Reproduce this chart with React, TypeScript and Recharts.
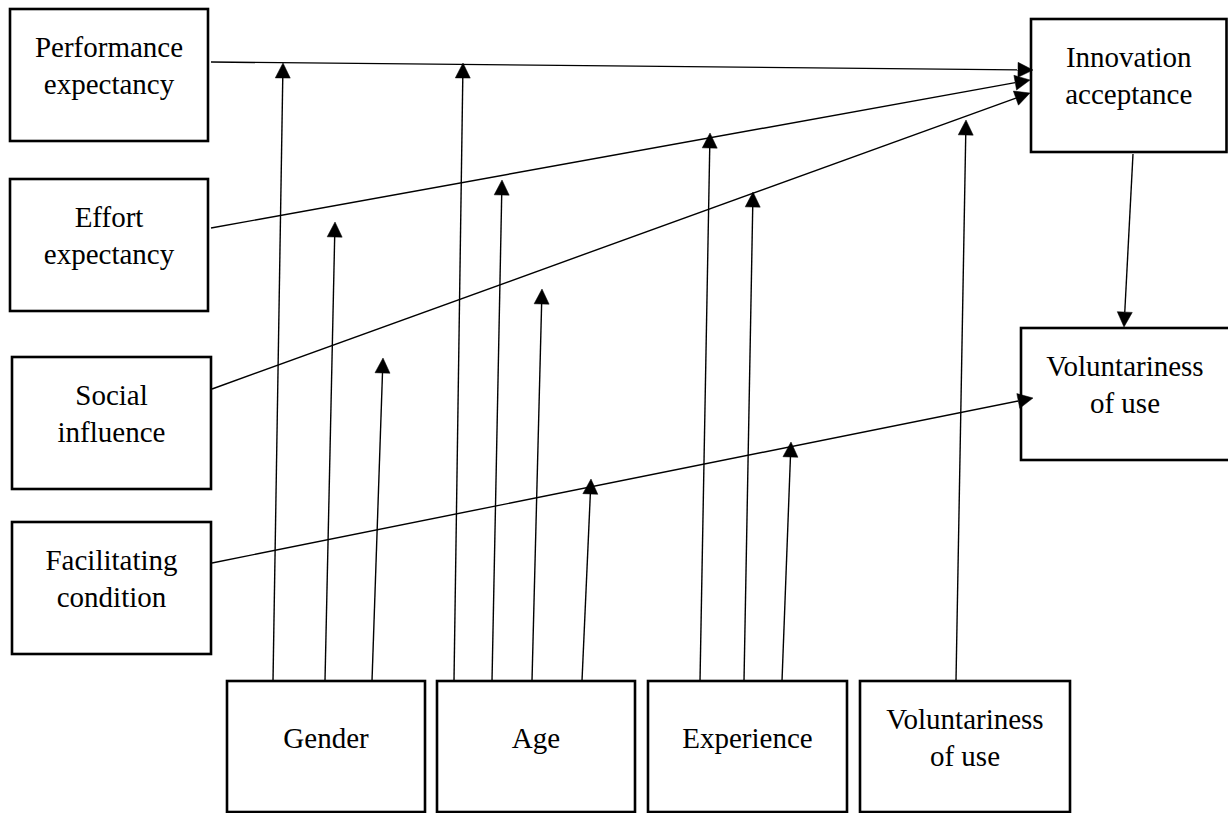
import React from 'react';
import { ComposedChart, XAxis, YAxis, ReferenceArea, ReferenceLine } from 'recharts';

// Diagram space (units on both axes)
const X_DOMAIN: [number, number] = [0, 1228];
const Y_DOMAIN: [number, number] = [0, 813];

// Construct boxes (left column)
const constructBoxes = [
  { lines: ['Performance', 'expectancy'], x1: 10, x2: 208, y1: 9, y2: 141 },
  { lines: ['Effort', 'expectancy'], x1: 10, x2: 208, y1: 179, y2: 311 },
  { lines: ['Social', 'influence'], x1: 12, x2: 211, y1: 357, y2: 489 },
  { lines: ['Facilitating', 'condition'], x1: 12, x2: 211, y1: 522, y2: 654 },
];

// Outcome boxes (right column)
const outcomeBoxes = [
  { lines: ['Innovation', 'acceptance'], x1: 1031, x2: 1226.5, y1: 19, y2: 152 },
  { lines: ['Voluntariness', 'of use'], x1: 1021, x2: 1234, y1: 328, y2: 460 },
];

// Moderator boxes (bottom row)
const moderatorBoxes = [
  { lines: ['Gender'], x1: 227, x2: 425, y1: 681, y2: 812 },
  { lines: ['Age'], x1: 437, x2: 635, y1: 681, y2: 812 },
  { lines: ['Experience'], x1: 648, x2: 847, y1: 681, y2: 812 },
  { lines: ['Voluntariness', 'of use'], x1: 860, x2: 1070, y1: 681, y2: 812 },
];

// Construct -> outcome paths: [fromX, fromY, toX, toY]
const constructPaths = [
  [211, 62, 1033, 70],
  [211, 228, 1030, 80],
  [212, 389, 1030, 93],
  [212, 563, 1033, 398],
  [1133, 154, 1124, 327],
];

// Moderator paths
const genderPaths = [
  [273, 681, 283, 63],
  [325, 681, 335, 222],
  [372, 681, 383, 358],
];
const agePaths = [
  [454, 681, 463, 63],
  [492, 681, 502, 180],
  [532, 681, 542, 289],
  [582, 681, 591, 479],
];
const experiencePaths = [
  [700, 681, 710, 133],
  [744, 681, 753, 192],
  [782, 681, 791, 442],
];
const voluntarinessPaths = [[956, 681, 966, 120]];

const FONT = '"Liberation Serif", "Times New Roman", Times, serif';

const BoxShape = (props: any) => {
  const { x, y, width, height, lines } = props;
  const n = lines.length;
  const lineH = 37;
  const firstCenter = y + 38 + (2 - n) * 18.5;
  const boxW = Math.min(width, 1226.5 - x > 0 && x > 1000 && width > 200 ? width : width);
  const cx = x + (x > 1000 && width > 200 ? (1228 - x + 1) / 2 + 0 : boxW / 2);
  return (
    <g>
      <rect x={x} y={y} width={width} height={height} fill="#fff" stroke="#000" strokeWidth={2.6} />
      {lines.map((t: string, i: number) => (
        <text
          key={i}
          x={cx}
          y={firstCenter + i * lineH + 10}
          textAnchor="middle"
          fontFamily={FONT}
          fontSize={29}
          fill="#000"
        >
          {t}
        </text>
      ))}
    </g>
  );
};

const ArrowShape = (props: any) => {
  const { x1, y1, x2, y2 } = props;
  const dx = x2 - x1;
  const dy = y2 - y1;
  const len = Math.hypot(dx, dy) || 1;
  const ux = dx / len;
  const uy = dy / len;
  const hl = 15;
  const hw = 7.5;
  const bx = x2 - ux * hl;
  const by = y2 - uy * hl;
  const px = -uy;
  const py = ux;
  const pts = `${x2},${y2} ${bx + px * hw},${by + py * hw} ${bx - px * hw},${by - py * hw}`;
  return (
    <g>
      <line x1={x1} y1={y1} x2={bx} y2={by} stroke="#000" strokeWidth={1.4} />
      <polygon points={pts} fill="#000" stroke="#000" strokeWidth={0.5} />
    </g>
  );
};

const allBoxes = [...constructBoxes, ...outcomeBoxes, ...moderatorBoxes];
const allPaths = [...constructPaths, ...genderPaths, ...agePaths, ...experiencePaths, ...voluntarinessPaths];

export default function App() {
  return (
    <div style={{ position: 'absolute', left: 0, top: 0, width: 1228, height: 813, background: '#fff', overflow: 'hidden' }}>
      <ComposedChart width={1228} height={813} margin={{ top: 0, right: 0, bottom: 0, left: 0 }}>
        <XAxis type="number" dataKey="x" domain={X_DOMAIN} hide allowDataOverflow />
        <YAxis type="number" dataKey="y" domain={Y_DOMAIN} reversed hide allowDataOverflow />
        {allBoxes.map((b, i) => (
          <ReferenceArea
            key={'b' + i}
            x1={b.x1}
            x2={b.x2}
            y1={b.y1}
            y2={b.y2}
            ifOverflow="visible"
            shape={(p: any) => <BoxShape {...p} lines={b.lines} />}
          />
        ))}
        {allPaths.map((p, i) => (
          <ReferenceLine
            key={'l' + i}
            segment={[
              { x: p[0], y: p[1] },
              { x: p[2], y: p[3] },
            ]}
            ifOverflow="visible"
            shape={(sp: any) => <ArrowShape {...sp} />}
          />
        ))}
      </ComposedChart>
    </div>
  );
}
